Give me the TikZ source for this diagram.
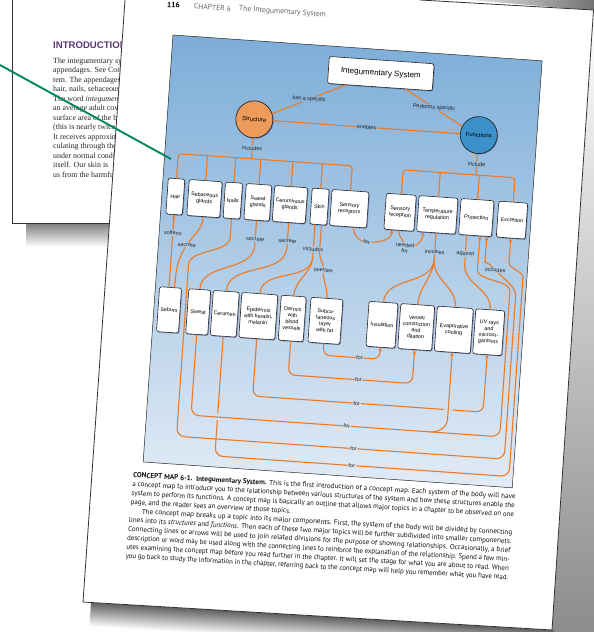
\documentclass[tikz,border=0pt]{standalone}
\usepackage{graphicx}
\usepackage{fontspec}
\setmainfont{Liberation Serif}
\newfontfamily\mapf{Liberation Sans}
\newfontfamily\capf{PT Sans}
\usetikzlibrary{shadows,arrows.meta}
\definecolor{bgtop}{RGB}{124,173,216}
\definecolor{bgbot}{RGB}{226,235,246}
\definecolor{ocol}{RGB}{236,122,36}
\definecolor{strc}{RGB}{236,155,90}
\definecolor{func}{RGB}{60,145,202}
\definecolor{purp}{RGB}{90,56,120}
\definecolor{gline}{RGB}{0,134,96}
\newsavebox\capboxA
\begin{document}
\sbox\capboxA{\capf\fontsize{7.2}{9}\selectfont a concept map to introduce you to the relationship between various structures of the system and how these structures enable the}%
\pgfmathsetmacro\capsc{383/\the\wd\capboxA}%
\begin{tikzpicture}[x=1pt,y=1pt,
  boxn/.style={draw=black!85, line width=0.6pt, fill=white, rounded corners=2.2pt, align=center, inner sep=0pt,
    font=\mapf\fontsize{5.4}{6.3}\selectfont,
    drop shadow={shadow xshift=0.9pt, shadow yshift=-0.9pt, opacity=0.3, fill=blue!40!black}},
  toprow/.style={boxn, minimum height=36pt},
  botrow/.style={boxn, minimum height=45pt},
  disc/.style={circle, draw=black!85, line width=0.7pt, minimum size=37pt, inner sep=0pt,
    font=\mapf\fontsize{6}{7}\selectfont,
    drop shadow={shadow xshift=0.9pt, shadow yshift=-0.9pt, opacity=0.3, fill=blue!40!black}},
  conn/.style={draw=ocol, line width=1.1pt},
  arr/.style={conn, -{Stealth[length=3.8pt,width=3.4pt]}},
  lab/.style={font=\mapf\fontsize{5.5}{5.9}\selectfont, text=black!85, inner sep=0.7pt, fill=bgbot!#1!bgtop},
  capn/.style={anchor=base west, inner sep=0pt, font=\capf\fontsize{7.2}{9}\selectfont, text=black!92},
  bodyn/.style={anchor=base west, inner sep=0pt, font=\fontsize{7.9}{9}\selectfont, text=black!85},
  hdr/.style={inner sep=0pt, font=\capf\fontsize{7.6}{8}\selectfont, text=black!60}
]
\useasboundingbox (0,0) rectangle (594,-632);
\fill[white] (0,0) rectangle (594,-632);

% ---------- back page ----------
\shade[top color=black!50, bottom color=white] (26,-223.3) rectangle (114,-247);
\draw[black!80, line width=0.7pt] (12,0) -- (12,-223) -- (114,-223);
\node[anchor=base west, inner sep=0pt, font=\mapf\bfseries\fontsize{9.6}{10}\selectfont, text=purp] (intro) at (53,-48.5) {INTRODUCTION};
\node[bodyn] (b1) at (53,-63.3) {The integumentary system and};
\node[bodyn] (b2) at (53,-72.8) {appendages. See Concept};
\node[bodyn] (b3) at (53,-82.3) {tem. The appendages};
\node[bodyn] (b4) at (53,-91.8) {hair, nails, sebaceous};
\node[bodyn] (b5) at (53,-101.3) {The word \textit{integumentary}};
\node[bodyn] (b6) at (53,-110.8) {an average adult covers};
\node[bodyn] (b7) at (53,-120.3) {surface area of the body};
\node[bodyn] (b8) at (53,-129.8) {(this is nearly twice};
\node[bodyn] (b9) at (53,-139.3) {It receives approximately};
\node[bodyn] (b10) at (53,-148.8) {culating through the};
\node[bodyn] (b11) at (53,-158.3) {under normal conditions};
\node[bodyn] (b12) at (53,-167.8) {itself. Our skin is};
\node[bodyn] (b13) at (53,-177.3) {us from the harmful};

% ---------- front page shadows ----------
\shade[left color=black!10, right color=black!55] (470,0) -- (594,0) -- (594,-10.5) -- cycle;
\shade[top color=white, bottom color=black!45] (593.5,-10) -- (594,-10) -- (594,-632) -- (551.8,-632) -- cycle;
\begin{scope}[transform canvas={shift={(83pt,-602pt)}, rotate=-3.42}]
  \shade[top color=black!62, bottom color=white] (8,0) rectangle (472,-24);
\end{scope}
% ---------- front page ----------
\fill[white] (125,0) -- (83,-602) -- (552,-630) -- (593.5,-10) -- (420,0) -- cycle;
\draw[black!80, line width=0.8pt] (125,0) -- (83,-602) -- (552,-630) -- (593.5,-10) -- (420,0);

% ---------- concept map ----------
\begin{scope}[shift={(173,-35)}, rotate=-4, transform shape]
\shadedraw[top color=bgtop, bottom color=bgbot, draw=black!85, line width=0.5pt] (0,0) rectangle (370,-428);

\node[inner sep=0pt, font=\capf\bfseries\fontsize{7.6}{8}\selectfont] (pnum) at (-1.6,30) {116};
\node[hdr] (chap) at (37.5,30.2) {CHAPTER 6};
\node[hdr] (ctitle) at (107.6,30.6) {The Integumentary System};

\node[boxn, minimum width=105pt, minimum height=27pt, font=\mapf\fontsize{8}{9}\selectfont] (sys) at (210,-24) {Integumentary System};
\node[disc, fill=strc] (str) at (87,-78.5) {Structure};
\node[disc, fill=func] (fun) at (312,-78.5) {Functions};

\node[toprow, minimum width=16.5pt] (hair) at (13.6,-161) {Hair};
\node[toprow, minimum width=33pt] (seb) at (42.8,-161) {Sebaceous\\glands};
\node[toprow, minimum width=17pt] (nails) at (71.2,-161) {Nails};
\node[toprow, minimum width=25.5pt] (swg) at (96.3,-161) {Sweat\\glands};
\node[toprow, minimum width=33pt] (cerg) at (128.5,-161) {Ceruminous\\glands};
\node[toprow, minimum width=17pt] (skin) at (158.1,-161) {Skin};
\node[toprow, minimum width=37pt] (sensr) at (188,-161) {Sensory\\receptors};
\node[toprow, minimum width=30pt] (sensrec) at (238.9,-161) {Sensory\\reception};
\node[toprow, minimum width=39pt] (temp) at (276.2,-161) {Temperature\\regulation};
\node[toprow, minimum width=33pt] (prot) at (315.3,-161) {Protection};
\node[toprow, minimum width=29pt] (excr) at (351.1,-161) {Excretion};

\node[botrow, minimum width=22pt] (sebum) at (15.2,-274.5) {Sebum};
\node[botrow, minimum width=22pt] (sweat) at (44.5,-274.5) {Sweat};
\node[botrow, minimum width=26pt] (cerumen) at (71.1,-274.5) {Cerumen};
\node[botrow, minimum width=36pt] (epi) at (104.7,-274.5) {Epidermis\\with keratin,\\melanin};
\node[botrow, minimum width=25pt] (dermis) at (138.7,-274.5) {Dermis\\with\\blood\\vessels};
\node[botrow, minimum width=32pt] (subc) at (172,-274.5) {Subcu-\\taneous\\layer\\with fat};
\node[botrow, minimum width=29pt] (insul) at (228.7,-274.5) {Insulation};
\node[botrow, minimum width=34pt] (vessel) at (263,-274.5) {Vessel\\constriction\\and\\dilation};
\node[botrow, minimum width=36pt] (evap) at (300.7,-274.5) {Evaporative\\cooling};
\node[botrow, minimum width=29pt] (uv) at (335.7,-274.5) {UV rays\\and\\microor-\\ganisms};

\coordinate (busL) at (87,-118);
\coordinate (busR) at (312,-118.5);
\coordinate (skinj) at (154.9,-212);
\coordinate (tj) at (276.2,-206);
\coordinate (j4) at (284,-378);

% top links
\draw[conn] (sys.202) -- node[lab=12]{has a specific} (str.22);
\draw[conn] (sys.332) -- node[lab=12]{Performs specific} (fun.156);
\draw[arr] (str.east) -- node[lab=18]{enables} (fun.west);
\draw[conn] (str.south) -- node[lab=25]{includes} (busL);
\draw[conn] (fun.south) -- node[lab=25]{include} (busR);
\draw[conn, rounded corners=3pt] (hair.north) -- (13.6,-118) -- (188,-118) -- (sensr.north);
\foreach \n/\u in {seb/42.8, nails/71.2, swg/96.3, cerg/128.5, skin/158.1}
  \draw[conn] (\n.north) -- (\u,-118);
\draw[conn, rounded corners=3pt] (sensrec.north) -- (238.9,-118.5) -- (351.1,-118.5) -- (excr.north);
\foreach \n/\u in {temp/276.2, prot/315.3}
  \draw[conn] (\n.north) -- (\u,-118.5);

% middle links
\draw[arr] (sebum.94) -- node[lab=46, pos=0.75]{softens} (hair.south);
\draw[conn] (seb.south) to[out=-90,in=60] (28.4,-208.5) node[lab=49]{secrete} to[out=240,in=90] (sebum.80);
\draw[conn] (swg.south) -- (96.3,-198) node[lab=46]{secrete} -- (96.3,-204) to[out=-90,in=90] (sweat.north);
\draw[conn] (cerg.south) -- (128.5,-197.6) node[lab=46]{secrete} -- (128.5,-204) to[out=-90,in=90] (cerumen.north);
\draw[conn] (skin.260) -- (154.9,-204) node[lab=48]{includes} -- (skinj) to[out=-90,in=90] (epi.north);
\draw[conn] (skinj) to[out=-90,in=90] (dermis.north);
\draw[conn] (skin.280) -- (161.3,-206) to[out=-90,in=90] (166.4,-224) node[lab=52]{overlies} to[out=-90,in=90] (subc.north);
\draw[arr] (sensr.287) to[out=-90,in=180] (207.6,-193) node[lab=45]{for} to[out=0,in=-90] (sensrec.249);
\draw[arr] (sensrec.south) to[out=-90,in=90] (246.3,-196.3) node[lab=46, align=center]{needed\\for} to[out=0,in=-90] (temp.235);
\draw[conn] (temp.south) -- (276.2,-198) node[lab=46]{involves} -- (tj);
\draw[conn] (tj) to[out=-90,in=90] (insul.north);
\draw[conn] (tj) to[out=-90,in=90] (vessel.north);
\draw[conn] (tj) to[out=-90,in=90] (evap.north);
\draw[conn] (prot.245) -- (307,-198) node[lab=46]{against} -- (307,-208) to[out=-90,in=90] (uv.north);

% bottom links
\draw[arr, rounded corners=7pt] (subc.south) -- (172,-309) -- (208.6,-309) node[lab=72]{for} -- (228.7,-309) -- (insul.south);
\draw[arr, rounded corners=7pt] (dermis.south) -- (138.7,-331) -- (209,-331) node[lab=77]{for} -- (263,-331) -- (vessel.south);
\draw[arr, rounded corners=7pt] (epi.south) -- (104.7,-354.6) -- (209,-354.6) node[lab=83]{for} -- (335.7,-354.6) -- (uv.south);
\draw[arr, rounded corners=8pt] (cerumen.south) -- (71.1,-417) -- (208.4,-417) node[lab=97]{for} -- (366,-417) -- (366,-225) to[out=90,in=-90] (351.1,-196) -- (excr.south);
\fill[bgbot!88!bgtop] (68.6,-374.6) rectangle (73.6,-381.4);
\draw[arr, rounded corners=8pt] (sweat.south) -- (44.5,-378) -- (200.6,-378) node[lab=88]{for} -- (354,-378) -- (354,-240) to[out=90,in=-90] (320.1,-205) -- (prot.285);
\fill[bgbot!83!bgtop] (296.4,-353.7) rectangle (305,-355.5);
\draw[arr] (j4) to[out=0,in=-90] (300.7,-364) -- (evap.south);
\draw[arr, rounded corners=8pt] (nails.south) -- (71.2,-190) to[out=-90,in=90] (31.5,-236) -- (31.5,-400) -- (208.8,-400) node[lab=93]{for} -- (360,-400) -- (360,-244) to[out=90,in=-40] (338,-212) node[lab=50]{includes} to[out=140,in=-90] (327,-197) -- (prot.303);
\end{scope}

% ---------- caption ----------
\begin{scope}[shift={(133,-477.5)}, rotate=-3.2, transform shape]
\node[capn] (c1) at (0,0) {\resizebox{383pt}{\height}{\textbf{CONCEPT MAP 6-1.\ \ Integumentary System.} This is the first introduction of a concept map. Each system of the body will have}};
\node[capn] (c2) at (-0.35,-9) {\resizebox{383pt}{\height}{a concept map to introduce you to the relationship between various structures of the system and how these structures enable the}};
\node[capn] (c3) at (-0.7,-18) {\resizebox{383pt}{\height}{system to perform its functions. A concept map is basically an outline that allows major topics in a chapter to be observed on one}};
\node[capn] (c4) at (-1.05,-27) {\scalebox{\capsc}[1]{page, and the reader sees an overview of those topics.}};
\node[capn] (c5) at (10.6,-36) {\resizebox{371pt}{\height}{The concept map breaks up a topic into its major components. First, the system of the body will be divided by connecting}};
\node[capn] (c6) at (-1.75,-45) {\resizebox{383pt}{\height}{lines into its \textit{structures} and \textit{functions}. Then each of these two major topics will be further subdivided into smaller componenets.}};
\node[capn] (c7) at (-2.1,-54) {\resizebox{383pt}{\height}{Connecting lines or arrows will be used to join related divisions for the purpose of showing relationships. Occasionally, a brief}};
\node[capn] (c8) at (-2.45,-63) {\resizebox{383pt}{\height}{description or word may be used along with the connecting lines to reinforce the explanation of the relationship. Spend a few min-}};
\node[capn] (c9) at (-2.8,-72) {\resizebox{383pt}{\height}{utes examining the concept map before you read further in the chapter. It will set the stage for what you are about to read. When}};
\node[capn] (c10) at (-3.15,-81) {\resizebox{383pt}{\height}{you go back to study the information in the chapter, referring back to the concept map will help you remember what you have read.}};
\end{scope}

% ---------- green pointer ----------
\coordinate (g0) at (0,-65);
\coordinate (g1) at (171,-159);
\draw[gline, line width=1.9pt] (g0) -- (g1);
\end{tikzpicture}
\end{document}
